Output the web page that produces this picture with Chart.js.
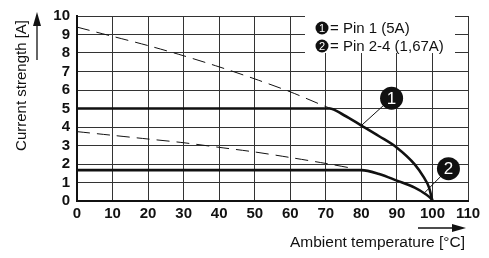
<!DOCTYPE html>
<html>
<head>
<meta charset="utf-8">
<script src="https://cdn.jsdelivr.net/npm/chart.js@4.4.1/dist/chart.umd.min.js"></script>
<style>
  html, body { margin: 0; padding: 0; background: #fff; }
  canvas { display: block; }
</style>
</head>
<body>
<canvas id="deratingChart" width="489" height="258"></canvas>
<script>
// values
const pin1Temp = [0, 71, 75, 80, 85, 90, 95, 97.5, 99, 100];
const pin1Current = [5, 5, 4.65, 4.08, 3.5, 2.88, 1.98, 1.3, 0.75, 0];
const pin1LimitTemp = [0, 10, 20, 30, 40, 50, 60, 70, 71.5];
const pin1LimitCurrent = [9.4, 8.9, 8.4, 7.85, 7.25, 6.6, 5.9, 5.1, 5.0];

const pin2Temp = [0, 80, 85, 90, 95, 98, 99.5, 100];
const pin2Current = [1.67, 1.67, 1.46, 1.1, 0.72, 0.38, 0.15, 0];
const pin2LimitTemp = [0, 10, 20, 30, 40, 50, 60, 70, 78];
const pin2LimitCurrent = [3.75, 3.55, 3.35, 3.15, 2.9, 2.65, 2.35, 2.03, 1.75];

const legendItems = ['= Pin 1 (5A)', '= Pin 2-4 (1,67A)'];
const markerLabels = ['1', '2'];
const xTitle = 'Ambient temperature [°C]';
const yTitle = 'Current strength [A]';

const toPoints = (xs, ys) => xs.map((x, i) => ({ x: x, y: ys[i] }));

const FONT = '"Liberation Sans", Arial, Helvetica, sans-serif';

function badge(ctx, x, y, r, text, size) {
    ctx.beginPath();
    ctx.arc(x, y, r, 0, Math.PI * 2);
    ctx.fillStyle = '#111';
    ctx.fill();
    ctx.fillStyle = '#fff';
    ctx.font = size + 'px ' + FONT;
    ctx.textAlign = 'center';
    ctx.textBaseline = 'middle';
    ctx.fillText(text, x, y + 1);
}

const extras = {
    id: 'extras',
    afterDraw(chart) {
        const ctx = chart.ctx;
        const xs = chart.scales.x, ys = chart.scales.y;
        ctx.save();

        // legend box
        ctx.fillStyle = '#fff';
        ctx.fillRect(305, 15, 150, 38);
        legendItems.forEach((t, i) => {
            const cy = 28 + i * 18;
            badge(ctx, 322, cy, 6.5, markerLabels[i], 11);
            ctx.fillStyle = '#111';
            ctx.font = '15px ' + FONT;
            ctx.textAlign = 'left';
            ctx.textBaseline = 'middle';
            ctx.fillText(t, 330, cy + 1);
        });

        // callout markers
        const marks = [
            { at: [88.5, 5.56], to: [80, 4.08] },
            { at: [104.5, 1.75], to: [97.8, 0.45] }
        ];
        marks.forEach((m, i) => {
            const mx = xs.getPixelForValue(m.at[0]), my = ys.getPixelForValue(m.at[1]);
            const tx = xs.getPixelForValue(m.to[0]), ty = ys.getPixelForValue(m.to[1]);
            ctx.strokeStyle = '#111';
            ctx.lineWidth = 1;
            ctx.beginPath();
            ctx.moveTo(mx, my);
            ctx.lineTo(tx, ty);
            ctx.stroke();
            badge(ctx, mx, my, 11.5, markerLabels[i], 17);
        });

        // axis titles with arrows
        ctx.fillStyle = '#111';
        ctx.strokeStyle = '#111';
        ctx.font = '15.5px ' + FONT;
        ctx.textAlign = 'right';
        ctx.textBaseline = 'middle';
        ctx.fillText(xTitle, 465, 243);
        ctx.lineWidth = 1.3;
        ctx.beginPath();
        ctx.moveTo(418, 228);
        ctx.lineTo(454, 228);
        ctx.stroke();
        ctx.beginPath();
        ctx.moveTo(466, 228);
        ctx.lineTo(452, 224);
        ctx.lineTo(452, 232);
        ctx.closePath();
        ctx.fill();

        ctx.save();
        ctx.translate(22, 20);
        ctx.rotate(-Math.PI / 2);
        ctx.font = '15px ' + FONT;
        ctx.textAlign = 'right';
        ctx.textBaseline = 'middle';
        ctx.fillText(yTitle, 0, 0);
        ctx.restore();
        ctx.beginPath();
        ctx.moveTo(37, 60);
        ctx.lineTo(37, 24);
        ctx.stroke();
        ctx.beginPath();
        ctx.moveTo(37, 12);
        ctx.lineTo(33, 26);
        ctx.lineTo(41, 26);
        ctx.closePath();
        ctx.fill();

        ctx.restore();
    }
};

const solid = { borderColor: '#111', borderWidth: 2.6, pointRadius: 0, cubicInterpolationMode: 'monotone', fill: false };
const dashed = { borderColor: '#111', borderWidth: 1, borderDash: [13, 7], pointRadius: 0, tension: 0.3, fill: false };

const chart = new Chart(document.getElementById('deratingChart'), {
    type: 'scatter',
    data: {
        datasets: [
            Object.assign({ label: 'Pin 1 limit', data: toPoints(pin1LimitTemp, pin1LimitCurrent), showLine: true }, dashed),
            Object.assign({ label: 'Pin 2-4 limit', data: toPoints(pin2LimitTemp, pin2LimitCurrent), showLine: true }, dashed),
            Object.assign({ label: 'Pin 1 (5A)', data: toPoints(pin1Temp, pin1Current), showLine: true }, solid),
            Object.assign({ label: 'Pin 2-4 (1,67A)', data: toPoints(pin2Temp, pin2Current), showLine: true }, solid)
        ]
    },
    options: {
        responsive: false,
        animation: false,
        layout: { padding: { left: 0, top: 12, right: 21, bottom: 0 } },
        plugins: { legend: { display: false }, tooltip: { enabled: false } },
        scales: {
            x: {
                type: 'linear', min: 0, max: 110,
                afterFit: s => { s.height = 57; },
                ticks: { stepSize: 10, autoSkip: false, maxRotation: 0, padding: 4, color: '#111', font: { family: FONT, size: 15, weight: 'bold' } },
                grid: { color: '#333', lineWidth: 1, drawTicks: false },
                border: { color: '#111', width: 2 }
            },
            y: {
                min: 0, max: 10,
                afterFit: s => { s.width = 77; },
                ticks: { stepSize: 1, autoSkip: false, padding: 7, color: '#111', font: { family: FONT, size: 15, weight: 'bold' } },
                grid: { color: '#333', lineWidth: 1, drawTicks: false },
                border: { color: '#111', width: 2 }
            }
        }
    },
    plugins: [extras]
});
</script>
</body>
</html>
